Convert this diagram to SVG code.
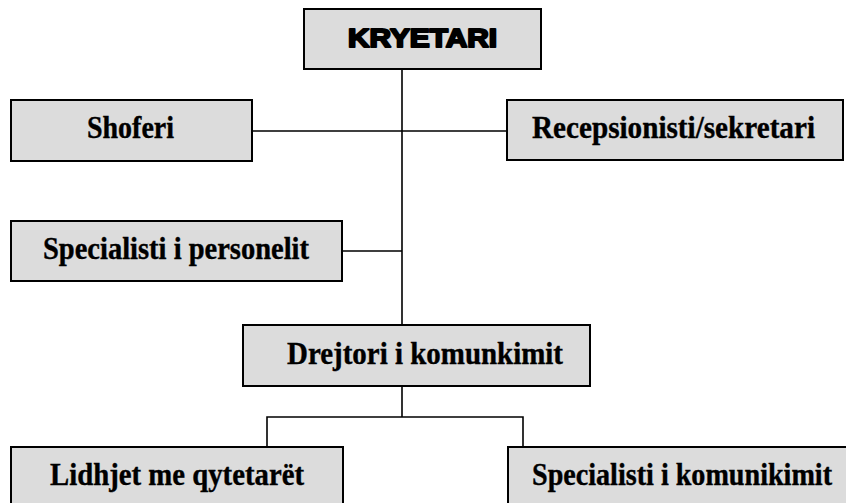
<svg xmlns="http://www.w3.org/2000/svg" width="846" height="503" viewBox="0 0 846 503">
<style>
.box{fill:#dcdcdc;stroke:#000;stroke-width:2}
.t{font-family:"Liberation Serif","Times New Roman",serif;font-weight:bold;font-size:32px;fill:#000;stroke:#000;stroke-width:0.4}
.h{font-family:"Liberation Sans",Arial,sans-serif;font-weight:900;font-size:25px;fill:#000;stroke:#000;stroke-width:2;stroke-linejoin:round}
.c{fill:none;stroke:#000;stroke-width:1.6}
</style>
<rect width="846" height="503" fill="#fff"/>
<g id="connectors">
<path class="c" d="M402 69V325M252 131H507M342 251H402M402 386V417M267 447V417H523V447"/>
</g>
<g id="kryetari">
<rect class="box" x="304" y="9" width="237" height="60"/>
<text class="h" x="348" y="47" textLength="149" lengthAdjust="spacingAndGlyphs">KRYETARI</text>
</g>
<g id="shoferi">
<rect class="box" x="11" y="100" width="241" height="61"/>
<text class="t" x="87" y="138" textLength="87" lengthAdjust="spacingAndGlyphs">Shoferi</text>
</g>
<g id="recepsionisti">
<rect class="box" x="507" y="100" width="336" height="60"/>
<text class="t" x="532" y="138" textLength="283" lengthAdjust="spacingAndGlyphs">Recepsionisti/sekretari</text>
</g>
<g id="personelit">
<rect class="box" x="11" y="221" width="331" height="60"/>
<text class="t" x="43" y="259" textLength="266" lengthAdjust="spacingAndGlyphs">Specialisti i personelit</text>
</g>
<g id="drejtori">
<rect class="box" x="243" y="325" width="347" height="61"/>
<text class="t" x="287" y="364" textLength="276" lengthAdjust="spacingAndGlyphs">Drejtori i komunkimit</text>
</g>
<g id="lidhjet">
<rect class="box" x="11" y="447" width="332" height="80"/>
<text class="t" x="50" y="485" textLength="254" lengthAdjust="spacingAndGlyphs">Lidhjet me qytetarët</text>
</g>
<g id="komunikimit">
<rect class="box" x="508" y="447" width="360" height="80"/>
<text class="t" x="532" y="485" textLength="300" lengthAdjust="spacingAndGlyphs">Specialisti i komunikimit</text>
</g>
</svg>
